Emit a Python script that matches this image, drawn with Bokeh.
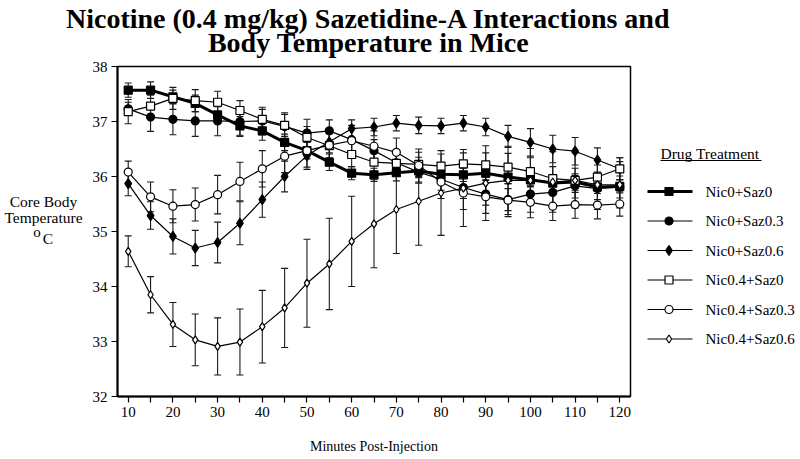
from bokeh.plotting import figure
from bokeh.layouts import row, column
from bokeh.models import Range1d, FixedTicker
from bokeh.embed import file_html
from bokeh.resources import INLINE
from bokeh.core.properties import value

# ---------------- data ----------------
minutes = [10, 15, 20, 25, 30, 35, 40, 45, 50, 55, 60, 65, 70, 75, 80, 85, 90, 95, 100, 105, 110, 115, 120]

series_names = ["Nic0+Saz0", "Nic0+Saz0.3", "Nic0+Saz0.6", "Nic0.4+Saz0", "Nic0.4+Saz0.3", "Nic0.4+Saz0.6"]

nic0_saz0 = [37.57, 37.57, 37.45, 37.33, 37.12, 36.92, 36.83, 36.62, 36.47, 36.26, 36.06, 36.03,
             36.07, 36.10, 36.04, 36.03, 36.06, 35.99, 35.94, 35.88, 35.90, 35.81, 35.82]
nic0_saz03 = [37.23, 37.08, 37.04, 37.01, 37.01, 37.00, 37.01, 36.91, 36.79, 36.83, 36.67, 36.47,
              36.25, 36.08, 35.95, 35.80, 35.68, 35.58, 35.68, 35.71, 35.83, 35.78, 35.81]
nic0_saz06 = [35.87, 35.29, 34.91, 34.70, 34.80, 35.15, 35.58, 36.00, 36.38, 36.63, 36.87, 36.90,
              36.97, 36.93, 36.92, 36.97, 36.90, 36.73, 36.62, 36.50, 36.46, 36.30, 36.14]
nic04_saz0 = [37.18, 37.28, 37.42, 37.38, 37.35, 37.20, 37.04, 36.93, 36.71, 36.56, 36.40, 36.26,
              36.24, 36.22, 36.19, 36.23, 36.21, 36.17, 36.09, 35.96, 35.93, 35.99, 36.14]
nic04_saz03 = [36.08, 35.63, 35.46, 35.49, 35.67, 35.91, 36.14, 36.37, 36.47, 36.57, 36.65, 36.55,
               36.44, 36.20, 35.90, 35.70, 35.63, 35.57, 35.53, 35.46, 35.49, 35.48, 35.50]
nic04_saz06 = [34.64, 33.85, 33.31, 33.03, 32.91, 32.99, 33.27, 33.61, 34.06, 34.41, 34.82, 35.14,
               35.40, 35.55, 35.70, 35.79, 35.88, 35.93, 35.93, 35.90, 35.93, 35.85, 35.85]

sem_nic0_saz0 = [0.13, 0.15, 0.12, 0.15, 0.15, 0.17, 0.17, 0.15, 0.15, 0.15, 0.12, 0.12,
                 0.15, 0.12, 0.12, 0.12, 0.12, 0.12, 0.12, 0.12, 0.12, 0.12, 0.12]
sem_nic0_saz03 = [0.12, 0.26, 0.28, 0.28, 0.27, 0.27, 0.25, 0.25, 0.25, 0.20, 0.20, 0.20,
                  0.20, 0.20, 0.20, 0.20, 0.20, 0.20, 0.20, 0.22, 0.22, 0.20, 0.20]
sem_nic0_saz06 = [0.22, 0.25, 0.32, 0.32, 0.37, 0.39, 0.32, 0.28, 0.25, 0.20, 0.16, 0.16,
                  0.14, 0.15, 0.14, 0.14, 0.16, 0.20, 0.25, 0.25, 0.25, 0.22, 0.20]
sem_nic04_saz0 = [0.22, 0.20, 0.20, 0.20, 0.20, 0.18, 0.18, 0.20, 0.20, 0.22, 0.22, 0.22,
                  0.22, 0.22, 0.22, 0.20, 0.22, 0.25, 0.25, 0.22, 0.22, 0.22, 0.20]
sem_nic04_saz03 = [0.20, 0.27, 0.30, 0.30, 0.35, 0.35, 0.33, 0.30, 0.30, 0.30, 0.28, 0.28,
                   0.26, 0.30, 0.30, 0.30, 0.30, 0.30, 0.28, 0.26, 0.25, 0.25, 0.22]
sem_nic04_saz06 = [0.28, 0.33, 0.40, 0.47, 0.52, 0.60, 0.66, 0.72, 0.80, 0.83, 0.82, 0.80,
                   0.80, 0.80, 0.77, 0.70, 0.68, 0.62, 0.58, 0.55, 0.50, 0.45, 0.42]

y_ticks = [32, 33, 34, 35, 36, 37, 38]
x_major_ticks = [10, 20, 30, 40, 50, 60, 70, 80, 90, 100, 110, 120]
x_minor_ticks = [15, 25, 35, 45, 55, 65, 75, 85, 95, 105, 115]

title_line1 = "Nicotine (0.4 mg/kg) Sazetidine-A Interactions and"
title_line2 = "Body Temperature in Mice"
y_label_lines = ["Core Body", "Temperature"]
x_label = "Minutes Post-Injection"
legend_title = "Drug Treatment"

means = [nic0_saz0, nic0_saz03, nic0_saz06, nic04_saz0, nic04_saz03, nic04_saz06]
sems = [sem_nic0_saz0, sem_nic0_saz03, sem_nic0_saz06, sem_nic04_saz0, sem_nic04_saz03, sem_nic04_saz06]

# ---------------- styles / layout ----------------
FONT = "Liberation Serif"
styles = [
    dict(marker="square", fill="black", size=8, lw=3.0),
    dict(marker="circle", fill="black", size=8, lw=1.2),
    dict(marker="diamond", fill="black", size=10, lw=1.2),
    dict(marker="square", fill="white", size=8, lw=1.2),
    dict(marker="circle", fill="white", size=8, lw=1.2),
    dict(marker="diamond", fill="white", size=8, lw=1.2),
]

TOTAL_W, TOTAL_H = 800, 459
TITLE_H = 58
BODY_H = TOTAL_H - TITLE_H
YLAB_W = 84
FL, FR, FT = 33, 2, 8
FRAME_W, FRAME_H = 513, 330
MAIN_W = FL + FRAME_W + FR
FB = BODY_H - FT - FRAME_H
LEG_W = TOTAL_W - YLAB_W - MAIN_W
FRAME_TOP = TITLE_H + FT
FRAME_BOTTOM = FRAME_TOP + FRAME_H
LEG_X0 = YLAB_W + MAIN_W


def blank(x0, w, y0, y1, h, top=0, bottom=0):
    f = figure(width=w, height=h, x_range=Range1d(x0, x0 + w), y_range=Range1d(y1, y0),
               output_backend="svg", toolbar_location=None, min_border_left=0, min_border_right=0,
               min_border_top=top, min_border_bottom=bottom,
               x_axis_type=None, y_axis_type=None)
    f.outline_line_color = None
    f.grid.visible = False
    f.background_fill_color = "white"
    f.border_fill_color = "white"
    return f


def put_text(f, x, y, txt, size, align="center", style="normal"):
    f.text(x=x, y=y, text=txt, text_font=value(FONT), text_font_size=size, text_font_style=style,
           text_align=align, text_baseline="middle", text_color="black")


# ---- title strip (page coordinates) ----
tf = blank(0, TOTAL_W, 0, TITLE_H, TITLE_H)
put_text(tf, [368], [18], [title_line1], "28px", style="bold")
put_text(tf, [368], [42], [title_line2], "28px", style="bold")

# ---- y label strip (page coordinates) ----
yf = blank(0, YLAB_W, FRAME_TOP, FRAME_BOTTOM, BODY_H, top=FT, bottom=FB)
put_text(yf, [43, 43], [201, 217], y_label_lines, "15.5px")
put_text(yf, [36.5], [231], ["o"], "15px")
put_text(yf, [47.5], [238], ["C"], "15.5px")

# ---- main plot ----
p = figure(width=MAIN_W, height=BODY_H, x_range=Range1d(7.6, 122.4), y_range=Range1d(32, 38),
           output_backend="svg", toolbar_location=None,
           min_border_left=FL, min_border_right=FR, min_border_top=FT, min_border_bottom=FB)
p.grid.visible = False
p.outline_line_color = "black"
p.outline_line_width = 1.5
p.background_fill_color = "white"
p.border_fill_color = "white"

xa = p.xaxis[0]
xa.ticker = FixedTicker(ticks=x_major_ticks, minor_ticks=x_minor_ticks)
ya = p.yaxis[0]
ya.ticker = FixedTicker(ticks=y_ticks)
for ax in (xa, ya):
    ax.axis_line_width = 2
    ax.axis_line_color = "black"
    ax.major_tick_in = 0
    ax.major_tick_out = 6
    ax.major_tick_line_width = 1.2
    ax.minor_tick_in = 0
    ax.minor_tick_out = 6
    ax.minor_tick_line_width = 1.2
    ax.major_label_text_font = FONT
    ax.major_label_text_font_size = "15px"
    ax.major_label_text_color = "black"
    ax.major_label_standoff = 4
ya.minor_tick_out = 0
xa.axis_label = x_label
xa.axis_label_text_font = FONT
xa.axis_label_text_font_size = "14px"
xa.axis_label_text_font_style = "normal"
xa.axis_label_text_color = "black"
xa.axis_label_standoff = 19

# error bars
for m, s in zip(means, sems):
    lo = [a - b for a, b in zip(m, s)]
    hi = [a + b for a, b in zip(m, s)]
    p.segment(x0=minutes, y0=lo, x1=minutes, y1=hi, line_color="#1a1a1a", line_width=1.1)
    p.scatter(x=minutes, y=lo, marker="dash", size=7, line_color="#1a1a1a", line_width=1.1)
    p.scatter(x=minutes, y=hi, marker="dash", size=7, line_color="#1a1a1a", line_width=1.1)

# lines and markers
for m, st in zip(means, styles):
    p.line(x=minutes, y=m, line_color="black", line_width=st["lw"])
for m, st in zip(means, styles):
    p.scatter(x=minutes, y=m, marker=st["marker"], size=st["size"], fill_color=st["fill"],
              line_color="black", line_width=1.2)

# ---- legend strip (page coordinates) ----
lf = blank(LEG_X0, LEG_W, FRAME_TOP, FRAME_BOTTOM, BODY_H, top=FT, bottom=FB)
put_text(lf, [660], [153], [legend_title], "15.5px", align="left")
lf.segment(x0=[660], y0=[160], x1=[761], y1=[160], line_color="black", line_width=1)

row_y = [191 + 29.5 * i for i in range(len(series_names))]
for yy, name, st in zip(row_y, series_names, styles):
    lf.segment(x0=[647], y0=[yy], x1=[692], y1=[yy], line_color="black", line_width=st["lw"])
    lf.scatter(x=[668.5], y=[yy], marker=st["marker"], size=st["size"], fill_color=st["fill"],
               line_color="black", line_width=1.2)
    put_text(lf, [705], [yy], [name], "15px", align="left")

layout = column(tf, row(yf, p, lf))
open("out.html", "w").write(file_html(layout, INLINE))
